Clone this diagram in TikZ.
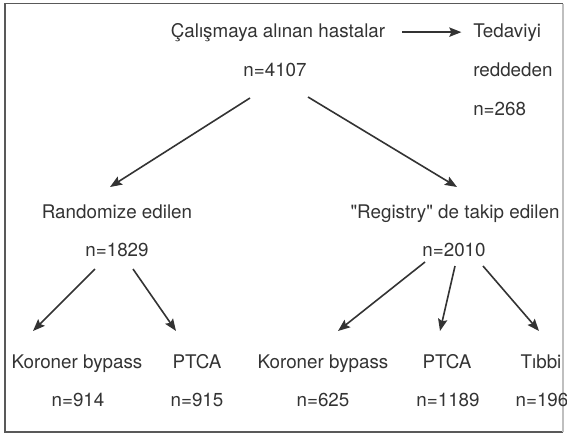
\documentclass[tikz,border=0pt]{standalone}
\usepackage{fontspec}
\setmainfont{TeX Gyre Heros}
\usetikzlibrary{arrows.meta}

\tikzset{
  lbl/.style={anchor=base, inner sep=0.75pt, text=black!80, font=\fontsize{14.1}{17}\selectfont},
  arr/.style={draw=black!80, line width=1.2pt, -{Stealth[length=9pt,width=7pt,inset=1.5pt]}}
}

\begin{document}
\begin{tikzpicture}[x=0.75pt,y=0.75pt,yscale=-1,xscale=1]
\useasboundingbox (0,0) rectangle (567,436);

%Shape: Frame
\draw [draw=black!65, line width=1.3pt] (563,432) -- (5,432) -- (5,3.5) -- (563,3.5);
\draw [draw=black!25, line width=1pt] (563,3.5) -- (563,432);

% Text Node
\node [lbl] (hasta) at (278,37) {Çalışmaya alınan hastalar};
% Text Node
\node [lbl] (n4107) at (275,76) {n=4107};
% Text Node
\node [lbl, anchor=base west] (ted) at (472,37) {Tedaviyi};
% Text Node
\node [lbl, anchor=base west] (red) at (472,76) {reddeden};
% Text Node
\node [lbl, anchor=base west] (n268) at (472,115) {n=268};

% Text Node
\node [lbl] (rand) at (117,218) {Randomize edilen};
% Text Node
\node [lbl] (n1829) at (117,256) {n=1829};
% Text Node
\node [lbl] (reg) at (455,218) {\textquotedbl Registry\textquotedbl{} de takip edilen};
% Text Node
\node [lbl] (n2010) at (454,256) {n=2010};

% Text Node
\node [lbl] (kb1) at (77,368) {Koroner bypass};
% Text Node
\node [lbl] (pt1) at (197,368) {PTCA};
% Text Node
\node [lbl] (kb2) at (323,368) {Koroner bypass};
% Text Node
\node [lbl] (pt2) at (447,368) {PTCA};
% Text Node
\node [lbl] (tib) at (541,368) {Tıbbi};
% Text Node
\node [lbl] (n914) at (78,406) {n=914};
% Text Node
\node [lbl] (n915) at (197,406) {n=915};
% Text Node
\node [lbl] (n625) at (323,406) {n=625};
% Text Node
\node [lbl] (n1189) at (448,406) {n=1189};
% Text Node
\node [lbl] (n196) at (542,406) {n=196};

%Straight Lines
\draw [arr, shorten <=12pt, shorten >=8pt] (hasta.east) -- (ted.west |- hasta.east);
\draw [arr] ([shift={(-25,22)}]n4107.base) -- ([shift={(-7,-31)}]rand.base);
\draw [arr] ([shift={(33,21)}]n4107.base) -- ([shift={(2,-31)}]reg.base);
\draw [arr] ([shift={(-22,13)}]n1829.base) -- ([shift={(-44,-37)}]kb1.base);
\draw [arr] ([shift={(16,13)}]n1829.base) -- ([shift={(-21,-37)}]pt1.base);
\draw [arr] ([shift={(-29,6)}]n2010.base) -- ([shift={(15,-37)}]kb2.base);
\draw [arr] ([shift={(1,10)}]n2010.base) -- ([shift={(-7,-37)}]pt2.base);
\draw [arr] ([shift={(29,10)}]n2010.base) -- ([shift={(-2,-37)}]tib.base);

\end{tikzpicture}
\end{document}
